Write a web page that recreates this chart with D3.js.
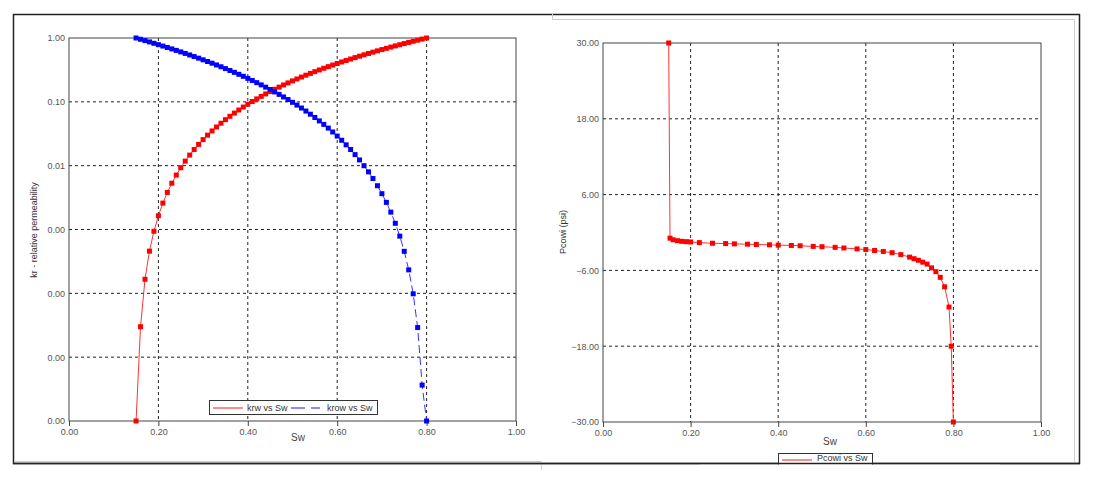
<!DOCTYPE html>
<html><head><meta charset="utf-8">
<script src="https://cdnjs.cloudflare.com/ajax/libs/d3/7.8.5/d3.min.js"></script>
<style>body{margin:0;background:#fff}svg{font-family:"Liberation Sans",Arial,sans-serif}</style>
</head><body><svg id="c" width="1095" height="478"></svg>
<script>
const swKr = d3.range(66).map(i => +(0.15 + i*0.01).toFixed(2));
const krw = [1e-6,3e-5,1.66e-4,4.58e-4,9.39e-4,1.64e-3,2.59e-3,3.81e-3,5.31e-3,7.13e-3,9.28e-3,
0.01178,0.01464,0.01789,0.02153,0.02558,0.03006,0.03498,0.04035,0.0462,0.05251,0.05933,0.06666,0.07447,0.08283,0.09174,
0.1012,0.1112,0.1218,0.133,0.1447,0.1571,0.17,0.1837,0.1979,0.2127,0.2283,0.2445,0.2613,0.2789,0.2971,0.316,0.3356,
0.3559,0.377,0.3988,0.4213,0.4447,0.4687,0.4933,0.519,0.5453,0.5724,0.6004,0.6291,0.6587,0.6889,0.7201,0.7521,0.7849,
0.8187,0.8533,0.8884,0.9248,0.9619,1];
const krow = [1,0.9545,0.9105,0.8678,0.8265,0.7865,0.7478,0.7105,0.6743,0.6394,0.6059,0.5734,0.5421,0.512,0.483,0.4551,
0.4283,0.4028,0.3781,0.3544,0.3318,0.3101,0.2895,0.2698,0.251,0.2331,0.216,0.1998,0.1844,0.1698,0.1562,0.1431,0.1309,
0.1193,0.1085,0.0983,0.0888,0.08,0.0717,0.064,0.0569,0.0503,0.0443,0.0388,0.0337,0.0291,0.025,0.0212,0.0179,0.0149,
0.0123,0.00999,0.008,0.00629,0.00485,0.00364,0.00266,0.00187,0.00125,0.000787,0.000455,0.000233,0.0000983,0.0000291,
0.00000365,1e-6];
const swPc = [0.15,0.153,0.16,0.17,0.18,0.19,0.20,0.22,0.25,0.28,0.30,0.33,0.35,0.38,0.40,0.43,0.45,0.48,0.50,0.53,0.55,
0.58,0.60,0.62,0.64,0.66,0.68,0.70,0.71,0.72,0.73,0.74,0.75,0.76,0.77,0.78,0.79,0.795,0.80];
const pc = [30,-0.9,-1.15,-1.3,-1.4,-1.45,-1.5,-1.6,-1.7,-1.75,-1.8,-1.85,-1.9,-1.95,-2.0,-2.05,-2.1,-2.2,-2.25,-2.35,-2.45,
-2.6,-2.7,-2.85,-3.0,-3.2,-3.5,-3.9,-4.15,-4.4,-4.7,-5.0,-5.6,-6.2,-7.1,-8.6,-11.8,-18,-30];
const xTicks = [0,0.2,0.4,0.6,0.8,1.0];
const krTicks = [1e-6,1e-5,1e-4,1e-3,1e-2,1e-1,1];
const pcTicks = [-30,-18,-6,6,18,30];

const svg = d3.select("#c");
// frames
svg.append("rect").attr("x",13.5).attr("y",14.5).attr("width",1066).attr("height",449).attr("fill","none").attr("stroke","#222").attr("stroke-width",1.5);
svg.append("path").attr("d","M15,461.5H541.5V470").attr("fill","none").attr("stroke","#ccc");
svg.append("path").attr("d","M552.5,14V19.5H1074.5V463").attr("fill","none").attr("stroke","#ccc");

function grid(g, x, y, xt, yt, L, R, T, B){
  g.selectAll(".gx").data(xt.slice(1,-1)).join("line").attr("x1",d=>x(d)).attr("x2",d=>x(d)).attr("y1",T).attr("y2",B)
   .attr("stroke","#222").attr("stroke-dasharray","3,3");
  g.selectAll(".gy").data(yt.slice(1,-1)).join("line").attr("y1",d=>y(d)).attr("y2",d=>y(d)).attr("x1",L).attr("x2",R)
   .attr("stroke","#222").attr("stroke-dasharray","3,3");
  g.append("rect").attr("x",L).attr("y",T).attr("width",R-L).attr("height",B-T).attr("fill","none").attr("stroke","#444");
}
function axes(g, x, y, xt, yt, B, L, fmt){
  const ax = g.append("g").attr("transform",`translate(0,${B})`).call(d3.axisBottom(x).tickValues(xt).tickFormat(d3.format(".2f")).tickSize(5));
  const ay = g.append("g").attr("transform",`translate(${L},0)`).call(d3.axisLeft(y).tickValues(yt).tickFormat(fmt).tickSize(0).tickPadding(4));
  [ax,ay].forEach(a=>{a.select(".domain").remove();a.selectAll("text").attr("fill","#555").style("font-size","9px");a.selectAll("line").attr("stroke","#444");});
}
// left chart
{
  const L=69,R=516,T=38,B=421;
  const x=d3.scaleLinear().domain([0,1]).range([L,R]);
  const y=d3.scaleLog().domain([1e-6,1]).range([B,T]);
  const g=svg.append("g");
  grid(g,x,y,xTicks,krTicks,L,R,T,B);
  axes(g,x,y,xTicks,krTicks,B,L,d3.format(".2f"));
  const line=d3.line().x((d,i)=>x(swKr[i])).y(d=>y(d));
  g.append("path").attr("d",line(krw)).attr("fill","none").attr("stroke","#f33").attr("stroke-width",1);
  g.append("path").attr("d",line(krow)).attr("fill","none").attr("stroke","#33f").attr("stroke-width",1).attr("stroke-dasharray","8,4");
  g.selectAll(".mr").data(krw).join("rect").attr("x",(d,i)=>x(swKr[i])-2.5).attr("y",d=>y(d)-2.5).attr("width",5).attr("height",5).attr("fill","#f00");
  g.selectAll(".mb").data(krow).join("rect").attr("x",(d,i)=>x(swKr[i])-2.5).attr("y",d=>y(d)-2.5).attr("width",5).attr("height",5).attr("fill","#00f");
  g.append("text").attr("x",298).attr("y",441).attr("text-anchor","middle").attr("fill","#444").style("font-size","10px").text("Sw");
  g.append("text").attr("transform","translate(37,230) rotate(-90)").attr("text-anchor","middle").attr("fill","#333").style("font-size","9px").text("kr - relative permeability");
  const lg=g.append("g");
  lg.append("rect").attr("x",209.5).attr("y",400.5).attr("width",168).attr("height",14).attr("fill","#fff").attr("stroke","#333");
  lg.append("line").attr("x1",213).attr("x2",243).attr("y1",408).attr("y2",408).attr("stroke","#f66").attr("stroke-width",1.5);
  lg.append("text").attr("x",247).attr("y",411).style("font-size","9px").attr("fill","#333").text("krw vs Sw");
  lg.append("line").attr("x1",291).attr("x2",320).attr("y1",408).attr("y2",408).attr("stroke","#66f").attr("stroke-width",1.5).attr("stroke-dasharray","14,6");
  lg.append("text").attr("x",327).attr("y",411).style("font-size","9px").attr("fill","#333").text("krow vs Sw");
}
// right chart
{
  const L=603,R=1041,T=43,B=422;
  const x=d3.scaleLinear().domain([0,1]).range([L,R]);
  const y=d3.scaleLinear().domain([-30,30]).range([B,T]);
  const g=svg.append("g");
  grid(g,x,y,xTicks,pcTicks,L,R,T,B);
  axes(g,x,y,xTicks,pcTicks,B,L,d3.format(".2f"));
  const line=d3.line().x((d,i)=>x(swPc[i])).y(d=>y(d));
  g.append("path").attr("d",line(pc)).attr("fill","none").attr("stroke","#f33").attr("stroke-width",1);
  g.selectAll(".mr").data(pc).join("rect").attr("x",(d,i)=>x(swPc[i])-2.5).attr("y",d=>y(d)-2.5).attr("width",5).attr("height",5).attr("fill","#f00");
  g.append("text").attr("x",830).attr("y",445).attr("text-anchor","middle").attr("fill","#444").style("font-size","10px").text("Sw");
  g.append("text").attr("transform","translate(566,232) rotate(-90)").attr("text-anchor","middle").attr("fill","#333").style("font-size","9px").text("Pcowi (psi)");
  const lg=g.append("g");
  lg.append("rect").attr("x",778.5).attr("y",453.5).attr("width",94).attr("height",14).attr("fill","#fff").attr("stroke","#333");
  lg.append("line").attr("x1",782).attr("x2",812).attr("y1",460).attr("y2",460).attr("stroke","#f66").attr("stroke-width",1.5);
  lg.append("text").attr("x",817).attr("y",461).style("font-size","9px").attr("fill","#333").text("Pcowi vs Sw");
  svg.append("rect").attr("x",700).attr("y",464.5).attr("width",300).attr("height",14).attr("fill","#fff");
  svg.append("line").attr("x1",13).attr("x2",1080).attr("y1",463.5).attr("y2",463.5).attr("stroke","#222").attr("stroke-width",1.5);
}
</script></body></html>
